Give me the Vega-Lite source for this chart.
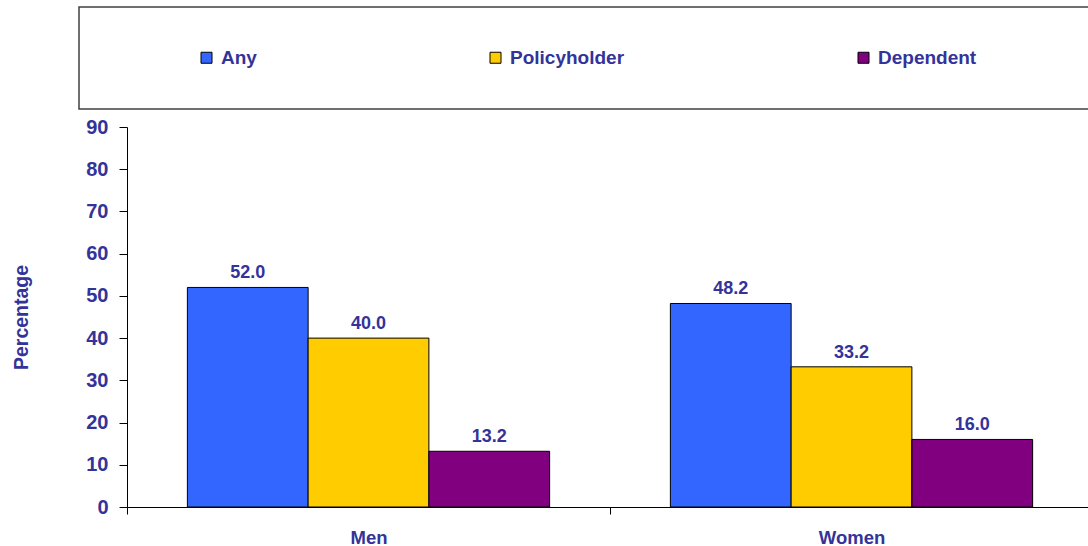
{
  "$schema": "https://vega.github.io/schema/vega-lite/v6.json",
  "autosize": "none",
  "width": 966,
  "height": 380,
  "padding": {"left": 127, "top": 127, "right": 0, "bottom": 39},
  "background": "white",
  "config": {
    "view": {"stroke": null},
    "font": "Liberation Sans",
    "axis": {
      "labelFont": "Liberation Sans",
      "labelFontWeight": "bold",
      "labelColor": "#333399",
      "titleFont": "Liberation Sans",
      "titleFontWeight": "bold",
      "titleColor": "#333399",
      "domainColor": "#000000",
      "tickColor": "#000000",
      "domainWidth": 1,
      "tickWidth": 1,
      "grid": false
    }
  },
  "data": {
    "values": [
      {"sex": "Men", "type": "Any", "pct": 52.0},
      {"sex": "Men", "type": "Policyholder", "pct": 40.0},
      {"sex": "Men", "type": "Dependent", "pct": 13.2},
      {"sex": "Women", "type": "Any", "pct": 48.2},
      {"sex": "Women", "type": "Policyholder", "pct": 33.2},
      {"sex": "Women", "type": "Dependent", "pct": 16.0}
    ]
  },
  "encoding": {
    "x": {
      "field": "sex",
      "type": "nominal",
      "sort": ["Men", "Women"],
      "scale": {"paddingInner": 0, "paddingOuter": 0},
      "axis": {
        "title": null,
        "labelAngle": 0,
        "labelFontSize": 18.5,
        "labelPadding": 14,
        "tickBand": "extent",
        "tickSize": 7
      }
    },
    "xOffset": {
      "field": "type",
      "type": "nominal",
      "sort": ["Any", "Policyholder", "Dependent"],
      "scale": {"paddingInner": 0, "paddingOuter": 0.5}
    },
    "y": {
      "field": "pct",
      "type": "quantitative",
      "scale": {"domain": [0, 90], "nice": false},
      "axis": {
        "title": "Percentage",
        "titleFontSize": 19.5,
        "titlePadding": 54,
        "values": [0, 10, 20, 30, 40, 50, 60, 70, 80, 90],
        "labelFontSize": 20,
        "labelPadding": 11,
        "tickSize": 8
      }
    }
  },
  "layer": [
    {
      "mark": {"type": "bar", "stroke": "#000000", "strokeWidth": 1},
      "encoding": {
        "color": {
          "field": "type",
          "type": "nominal",
          "sort": ["Any", "Policyholder", "Dependent"],
          "scale": {
            "domain": ["Any", "Policyholder", "Dependent"],
            "range": ["#3366FF", "#FFCC00", "#800080"]
          },
          "legend": {
            "orient": "none",
            "legendX": -48,
            "legendY": -120,
            "direction": "horizontal",
            "title": "\u00a0",
            "titleOrient": "left",
            "titleFontSize": 18,
            "titlePadding": 77,
            "padding": 41,
            "strokeColor": "#404040",
            "columnPadding": 229,
            "symbolType": "square",
            "symbolSize": 121,
            "symbolStrokeColor": "#000000",
            "symbolStrokeWidth": 1,
            "symbolOpacity": 1,
            "labelFont": "Liberation Sans",
            "labelFontWeight": "bold",
            "labelFontSize": 19,
            "labelColor": "#333399",
            "labelOffset": 5,
            "labelLimit": 0,
            "labelExpr": "datum.label === 'Dependent' ? 'Dependent\u2800\u2800\u2800\u2800\u2800\u2800\u2800\u2800' : datum.label",
            "encode": {"legend": {"update": {"strokeWidth": {"value": 1.5}}}}
          }
        }
      }
    },
    {
      "mark": {
        "type": "text",
        "baseline": "alphabetic",
        "dy": -9,
        "font": "Liberation Sans",
        "fontWeight": "bold",
        "fontSize": 18,
        "color": "#333399"
      },
      "encoding": {
        "text": {"field": "pct", "type": "quantitative", "format": ".1f"}
      }
    }
  ]
}
